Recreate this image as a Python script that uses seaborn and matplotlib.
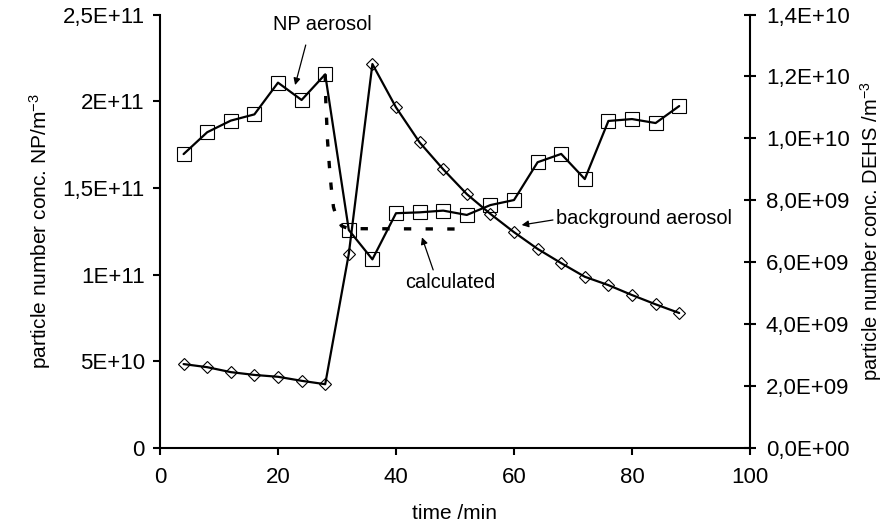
import matplotlib
matplotlib.use("Agg")
import matplotlib.pyplot as plt
import seaborn as sns

# ---------------- data ----------------
time_min = [4, 8, 12, 16, 20, 24, 28, 32, 36, 40, 44, 48, 52, 56, 60, 64, 68, 72, 76, 80, 84, 88]
np_aerosol = [1.695e11, 1.821e11, 1.888e11, 1.924e11, 2.107e11, 2.007e11, 2.155e11,
              1.257e11, 1.088e11, 1.354e11, 1.359e11, 1.369e11, 1.344e11, 1.401e11,
              1.430e11, 1.648e11, 1.696e11, 1.551e11, 1.886e11, 1.897e11, 1.874e11, 1.972e11]
dehs_background = [2.71e9, 2.61e9, 2.45e9, 2.36e9, 2.30e9, 2.17e9, 2.06e9,
                   6.27e9, 12.40e9, 11.00e9, 9.87e9, 9.00e9, 8.20e9, 7.56e9,
                   6.97e9, 6.43e9, 5.97e9, 5.53e9, 5.26e9, 4.94e9, 4.64e9, 4.36e9]
calc_time = [28, 28.1, 28.4, 28.7, 29.0, 29.4, 30.0, 30.8, 32, 50]
calc_values = [2.155e11, 2.00e11, 1.77e11, 1.63e11, 1.51e11, 1.39e11, 1.32e11, 1.28e11, 1.265e11, 1.263e11]

x_ticks = [0, 20, 40, 60, 80, 100]
left_ticks = [0, 5e10, 1e11, 1.5e11, 2e11, 2.5e11]
left_tick_labels = ["0", "5E+10", "1E+11", "1,5E+11", "2E+11", "2,5E+11"]
right_ticks = [0, 2e9, 4e9, 6e9, 8e9, 1e10, 1.2e10, 1.4e10]
right_tick_labels = ["0,0E+00", "2,0E+09", "4,0E+09", "6,0E+09", "8,0E+09",
                     "1,0E+10", "1,2E+10", "1,4E+10"]

x_label = "time /min"
left_label = r"particle number conc. NP/m$^{-3}$"
right_label = r"particle number conc. DEHS /m$^{-3}$"

# ---------------- style ----------------
sns.set_theme(style="white")
plt.rcParams["font.family"] = ["Liberation Sans", "DejaVu Sans"]
plt.rcParams["mathtext.default"] = "regular"
plt.rcParams["text.color"] = "black"

W, H = 890, 530
fig = plt.figure(figsize=(W / 100, H / 100), dpi=100)
ax = fig.add_axes([160 / W, 1 - 448 / H, 590 / W, 433.5 / H])
ax2 = ax.twinx()

# calculated (dashed)
sns.lineplot(x=calc_time, y=calc_values, ax=ax, color="black", lw=2.4, sort=False)
ax.lines[-1].set_dashes([2.2, 4.3])
ax.lines[-1].set_dash_capstyle("butt")

# NP aerosol (squares, left axis)
sns.lineplot(x=time_min, y=np_aerosol, ax=ax, color="black", lw=1.6,
             marker="s", markersize=10, markerfacecolor="none",
             markeredgecolor="black", markeredgewidth=0.8, sort=False)

# background aerosol (diamonds, right axis)
sns.lineplot(x=time_min, y=dehs_background, ax=ax2, color="black", lw=1.6,
             marker="D", markersize=6.3, markerfacecolor="none",
             markeredgecolor="black", markeredgewidth=0.8, sort=False)

# ---------------- axes ----------------
ax.set_xlim(0, 100)
ax.set_ylim(0, 2.5e11)
ax2.set_ylim(0, 1.4e10)

ax.set_xticks(x_ticks)
ax.set_xticklabels([str(v) for v in x_ticks])
ax.set_yticks(left_ticks)
ax.set_yticklabels(left_tick_labels)
ax2.set_yticks(right_ticks)
ax2.set_yticklabels(right_tick_labels)

for a in (ax, ax2):
    a.grid(False)
    for s in a.spines.values():
        s.set_color("black")
        s.set_linewidth(1.5)
    a.spines["top"].set_visible(False)
ax.spines["right"].set_visible(False)
ax2.spines["left"].set_visible(False)
ax2.spines["bottom"].set_visible(False)

ax.tick_params(axis="x", direction="out", length=5, width=1.5, pad=9,
               labelsize=16, colors="black", bottom=True)
ax.tick_params(axis="y", direction="out", length=5, width=1.5, pad=6,
               labelsize=16, colors="black", left=True)
ax2.tick_params(axis="y", direction="inout", length=9, width=1.5, pad=7,
                labelsize=16, colors="black", right=True)

ax.set_xlabel(x_label, fontsize=15, labelpad=11, color="black")
ax.set_ylabel(left_label, fontsize=15, labelpad=7, color="black")
ax2.set_ylabel(right_label, fontsize=14.5, labelpad=6, color="black")

# ---------------- annotations ----------------
arrow = dict(arrowstyle="-|>", color="black", lw=0.9, mutation_scale=10,
             shrinkA=0, shrinkB=0)
ax.text(27.5, 2.44e11, "NP aerosol", fontsize=14.4, ha="center", va="center")
ax.annotate("", xy=(22.9, 2.093e11), xytext=(24.7, 2.324e11), arrowprops=arrow)
ax.text(49.2, 0.952e11, "calculated", fontsize=14.4, ha="center", va="center")
ax.annotate("", xy=(44.4, 1.215e11), xytext=(46.3, 1.027e11), arrowprops=arrow)
ax.text(67.2, 1.326e11, "background aerosol", fontsize=14.4, ha="left", va="center")
ax.annotate("", xy=(61.3, 1.286e11), xytext=(66.6, 1.315e11), arrowprops=arrow)

fig.savefig("out.png", dpi=100, facecolor="white")
